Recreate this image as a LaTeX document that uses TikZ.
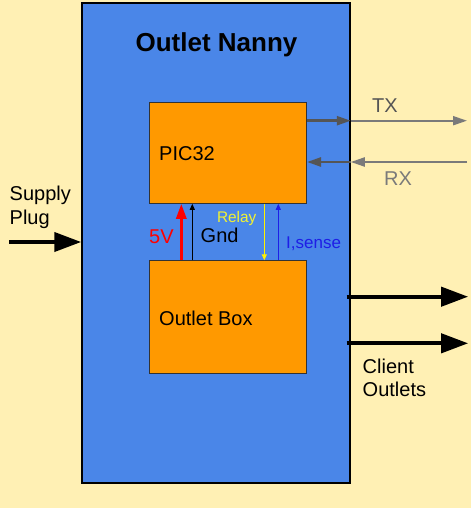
\documentclass[tikz,border=0pt]{standalone}
\usepackage{fontspec}
\setmainfont{Liberation Sans}
\usepackage{xcolor}
\usepackage{tikz}
\usetikzlibrary{calc, positioning, arrows.meta}
\definecolor{cream}{HTML}{FFF0B4}
\definecolor{nannyblue}{HTML}{4A86E8}
\definecolor{boxorange}{HTML}{FF9900}
\definecolor{darkgrey}{HTML}{555555}
\definecolor{lightgrey}{HTML}{7A7A7A}
\definecolor{relayyellow}{HTML}{F2F230}
\definecolor{senseblue}{HTML}{1E1EE6}
\tikzset{
    outer/.style={rectangle, draw=black, line width=1.5pt, fill=nannyblue, minimum width=268pt, minimum height=480pt, inner sep=0pt},
    unit/.style={rectangle, draw=black!80, line width=1pt, fill=boxorange, minimum width=157pt, minimum height=101pt, inner sep=0pt},
    txt/.style={inner sep=0pt, anchor=base west, align=left, font=\fontsize{20}{23.5}\selectfont},
    bigarrow/.style={-{Triangle[length=27pt, width=19pt]}, line width=4pt, black},
    busarrow/.style={-{Triangle[length=14pt, width=9pt]}, line width=2.5pt},
    wire/.style={-{Triangle[length=6pt, width=5pt]}, line width=1pt}
}

\begin{document}
\begin{tikzpicture}[x=1pt, y=-1pt]
    % Background
    \fill[cream] (0,0) rectangle (471,508);
    \useasboundingbox (0,0) rectangle (471,508);

    % Main block
    \node[outer] (nanny) at (216, 243) {};
    \node[inner sep=0pt, anchor=base, font=\fontsize{26}{30}\selectfont\bfseries] (title) at (216.5, 51.7) {Outlet Nanny};

    % Inner boxes
    \node[unit] (pic) at (228, 152.8) {};
    \node[unit, minimum height=113pt] (outlet) at (228, 317.3) {};
    \node[txt] (piclabel) at (159, 160.7) {PIC32};
    \node[txt] (outletlabel) at (159, 325) {Outlet Box};

    % Supply plug
    \coordinate (plug) at (9, 242);
    \draw[bigarrow] (plug) -- (plug -| nanny.west);
    \node[txt] (supply) at (9.5, 224.2) {Supply\\Plug};

    % TX / RX lines
    \coordinate (txend) at (467, 120.7);
    \coordinate (rxstart) at (467, 162);
    \coordinate (txmid) at (txend -| nanny.east);
    \coordinate (rxmid) at (rxstart -| nanny.east);
    \draw[busarrow, darkgrey] (txend -| pic.east) -- (txmid);
    \draw[busarrow, lightgrey, line width=2pt] (txmid) -- (txend);
    \draw[busarrow, lightgrey, line width=2pt] (rxstart) -- (rxmid);
    \draw[busarrow, darkgrey] (rxmid) -- (rxstart -| pic.east);
    \node[txt, darkgrey] (tx) at (372, 112.7) {TX};
    \node[txt, lightgrey] (rx) at (384, 185) {RX};

    % Client outlets
    \coordinate (out1) at (346.7, 296.7);
    \coordinate (out2) at (346.7, 343.3);
    \draw[bigarrow] (out1) -- ++(121.5, 0);
    \draw[bigarrow] (out2) -- ++(121.5, 0);
    \node[txt] (clients) at (362.5, 396.8) {Client\\Outlets};

    % Signals between the boxes
    \coordinate (v5) at (181.3, 0);
    \coordinate (gnd) at (192.3, 0);
    \coordinate (relay) at (264.3, 0);
    \coordinate (sense) at (278.3, 0);
    \draw[-{Triangle[length=15pt, width=10pt]}, line width=3pt, red] (v5 |- outlet.north) -- (v5 |- pic.south);
    \draw[wire, black] (gnd |- outlet.north) -- (gnd |- pic.south);
    \draw[wire, yellow] (relay |- pic.south) -- (relay |- outlet.north);
    \draw[wire, senseblue] (sense |- outlet.north) -- (sense |- pic.south);
    \node[txt, red] (v5label) at (149, 243.3) {5V};
    \node[txt] (gndlabel) at (200.5, 242.7) {Gnd};
    \node[txt, relayyellow, font=\fontsize{15.4}{18}\selectfont] (relaylabel) at (216.8, 222.6) {Relay};
    \node[txt, senseblue, font=\fontsize{17}{20}\selectfont] (senselabel) at (286, 248.3) {I,sense};

\end{tikzpicture}
\end{document}
